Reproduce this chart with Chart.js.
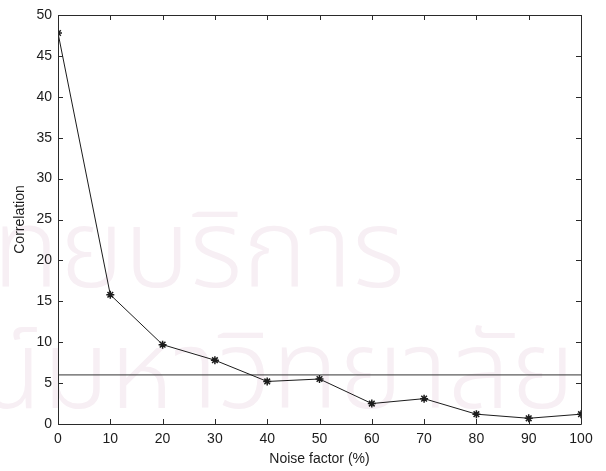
<!DOCTYPE html>
<html>
<head>
<meta charset="utf-8">
<script src="https://cdn.jsdelivr.net/npm/chart.js@4"></script>
<style>
  html, body { margin: 0; padding: 0; background: #ffffff; }
  #wrap { width: 606px; height: 471px; position: relative; }
</style>
</head>
<body>
<div id="wrap"><canvas id="chart"></canvas></div>
<script>
// Correlation against the noise factor applied to the input
const noiseFactor = [0, 10, 20, 30, 40, 50, 60, 70, 80, 90, 100];
const correlation = [47.8, 15.8, 9.7, 7.8, 5.2, 5.5, 2.5, 3.1, 1.2, 0.7, 1.2];
const thresholdLevel = 6;
const xTickValues = [0, 10, 20, 30, 40, 50, 60, 70, 80, 90, 100];
const yTickValues = [0, 5, 10, 15, 20, 25, 30, 35, 40, 45, 50];
const watermarkLines = ['สถาบันวิทยบริการ', 'จุฬาลงกรณ์มหาวิทยาลัย'];

const ink = '#1c1c1c';
Chart.defaults.font.family = "'Liberation Sans', Arial, Helvetica, sans-serif";
Chart.defaults.font.size = 14;
Chart.defaults.color = ink;

// Faint background lettering behind the plot
const watermark = {
  id: 'watermark',
  beforeDraw(chart) {
    const ctx = chart.ctx;
    ctx.save();
    ctx.fillStyle = '#ffffff';
    ctx.fillRect(0, 0, chart.width, chart.height);
    ctx.fillStyle = '#f7eff4';
    ctx.textBaseline = 'alphabetic';
    ctx.textAlign = 'right';
    ctx.font = "300 110px 'Noto Sans Thai', 'Noto Sans', sans-serif";
    ctx.fillText(watermarkLines[0], 405, 287);
    ctx.fillText(watermarkLines[1], 575, 408);
    ctx.restore();
  }
};

// Box frame with inward ticks on all four sides
const frameTicks = {
  id: 'frameTicks',
  afterDatasetsDraw(chart) {
    const { ctx, chartArea: a, scales } = chart;
    const len = 5;
    ctx.save();
    ctx.strokeStyle = '#2a2a2a';
    ctx.lineWidth = 1;
    ctx.beginPath();
    ctx.rect(a.left + 0.5, a.top + 0.5, a.right - a.left, a.bottom - a.top);
    xTickValues.forEach(v => {
      const px = Math.round(scales.x.getPixelForValue(v)) + 0.5;
      ctx.moveTo(px, a.bottom); ctx.lineTo(px, a.bottom - len);
      ctx.moveTo(px, a.top); ctx.lineTo(px, a.top + len);
    });
    yTickValues.forEach(v => {
      const py = Math.round(scales.y.getPixelForValue(v)) + 0.5;
      ctx.moveTo(a.left, py); ctx.lineTo(a.left + len, py);
      ctx.moveTo(a.right, py); ctx.lineTo(a.right - len, py);
    });
    ctx.stroke();
    ctx.restore();
  }
};

const corrPoints = noiseFactor.map((x, i) => ({ x, y: correlation[i] }));
const thresholdPoints = [
  { x: xTickValues[0], y: thresholdLevel },
  { x: xTickValues[xTickValues.length - 1], y: thresholdLevel }
];

new Chart(document.getElementById('chart'), {
  type: 'line',
  data: {
    datasets: [
      {
        label: 'Correlation',
        data: corrPoints,
        borderColor: ink,
        backgroundColor: ink,
        borderWidth: 1,
        pointStyle: 'star',
        pointRadius: 4,
        pointBorderWidth: 1.5,
        pointBorderColor: ink,
        tension: 0,
        fill: false
      },
      {
        label: 'Threshold',
        data: thresholdPoints,
        borderColor: '#333333',
        borderWidth: 1,
        pointRadius: 0,
        fill: false
      }
    ]
  },
  plugins: [watermark, frameTicks],
  options: {
    responsive: true,
    maintainAspectRatio: false,
    animation: false,
    devicePixelRatio: 1,
    layout: { padding: { top: 15, right: 25, left: 0, bottom: 0 } },
    plugins: { legend: { display: false }, tooltip: { enabled: false } },
    scales: {
      x: {
        type: 'linear',
        min: 0,
        max: 100,
        afterFit(scale) { scale.height = 47; },
        afterBuildTicks(scale) { scale.ticks = xTickValues.map(v => ({ value: v })); },
        grid: { display: false, drawTicks: false },
        border: { display: false },
        ticks: { padding: 7, color: ink, font: { size: 14 } },
        title: { display: true, text: 'Noise factor (%)', color: ink, font: { size: 14 }, padding: { top: 0, bottom: 3 } }
      },
      y: {
        type: 'linear',
        min: 0,
        max: 50,
        afterFit(scale) { scale.width = 58; },
        afterBuildTicks(scale) { scale.ticks = yTickValues.map(v => ({ value: v })); },
        grid: { display: false, drawTicks: false },
        border: { display: false },
        ticks: { padding: 6, color: ink, font: { size: 14 } },
        title: { display: true, text: 'Correlation', color: ink, font: { size: 14 }, padding: { top: 12, bottom: 0 } }
      }
    }
  }
});
</script>
</body>
</html>
